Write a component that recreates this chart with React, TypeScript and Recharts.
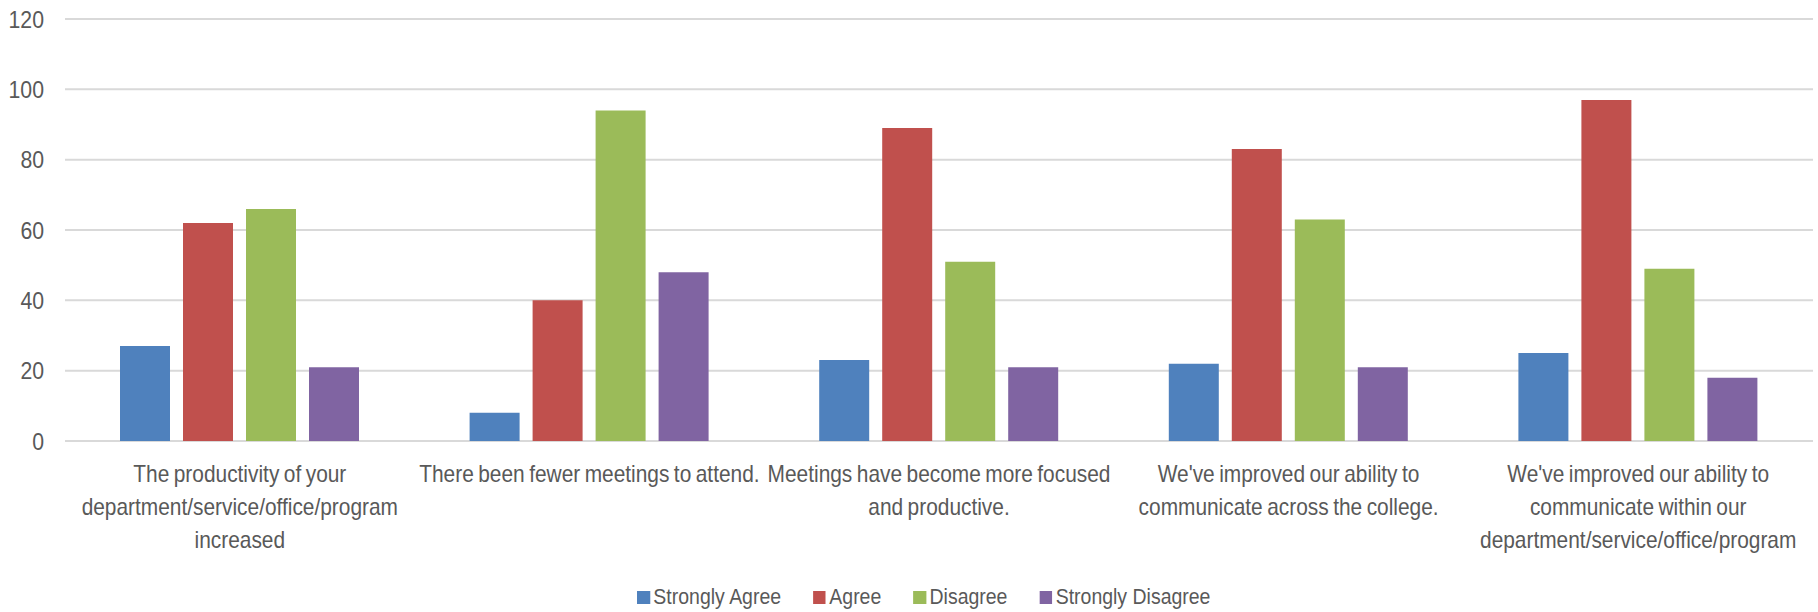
import { BarChart, Bar, XAxis, YAxis, CartesianGrid, Legend } from "recharts";

const categories = [
  "The productivity of your department/service/office/program increased",
  "There been fewer meetings to attend.",
  "Meetings have become more focused and productive.",
  "We've improved our ability to communicate across the college.",
  "We've improved our ability to communicate within our department/service/office/program",
];

// wrapped lines as they appear under each group
const categoryLines = [
  ["The productivity of your", "department/service/office/program", "increased"],
  ["There been fewer meetings to attend."],
  ["Meetings have become more focused", "and productive."],
  ["We've improved our ability to", "communicate across the college."],
  ["We've improved our ability to", "communicate within our", "department/service/office/program"],
];

const stronglyAgree = [27, 8, 23, 22, 25];
const agree = [62, 40, 89, 83, 97];
const disagree = [66, 94, 51, 63, 49];
const stronglyDisagree = [21, 48, 21, 21, 18];

const yTicks = [0, 20, 40, 60, 80, 100, 120];

const series = [
  { key: "stronglyAgree", name: "Strongly Agree", color: "#4F81BD" },
  { key: "agree", name: "Agree", color: "#C0504D" },
  { key: "disagree", name: "Disagree", color: "#9BBB59" },
  { key: "stronglyDisagree", name: "Strongly Disagree", color: "#8064A2" },
];

const data = categories.map((c, i) => ({
  category: c,
  stronglyAgree: stronglyAgree[i],
  agree: agree[i],
  disagree: disagree[i],
  stronglyDisagree: stronglyDisagree[i],
}));

const TEXT = "#595959";
const FONT = '"Liberation Sans", Arial, sans-serif';
// squeeze the text horizontally to get a Calibri-like narrow look
const NARROW = 0.885;
const LABEL_NARROW = 0.87;

function CategoryTick(props: any) {
  const { x, y, index } = props;
  const lines = categoryLines[index] ?? [];
  return (
    <g transform={`translate(${x},${y}) scale(${LABEL_NARROW},1)`}>
      <text x={0} y={0} textAnchor="middle" fill={TEXT} fontSize={24} wordSpacing={-1.5}>
        {lines.map((l: string, i: number) => (
          <tspan key={i} x={0} dy={33}>
            {l}
          </tspan>
        ))}
      </text>
    </g>
  );
}

function ValueTick(props: any) {
  const { x, y, payload } = props;
  return (
    <g transform={`translate(${x},${y}) scale(${NARROW},1)`}>
      <text x={0} y={0} dy="0.355em" textAnchor="end" fill={TEXT} fontSize={24}>
        {payload.value}
      </text>
    </g>
  );
}

function LegendRow() {
  return (
    <div
      style={{
        display: "flex",
        alignItems: "center",
        gap: 36,
        fontSize: 22,
        color: TEXT,
        whiteSpace: "nowrap",
        transform: `scaleX(${NARROW})`,
        transformOrigin: "left center",
      }}
    >
      {series.map((s) => (
        <div key={s.key} style={{ display: "flex", alignItems: "center", gap: 4 }}>
          <span style={{ width: 14.5, height: 13, background: s.color, display: "inline-block" }} />
          <span>{s.name}</span>
        </div>
      ))}
    </div>
  );
}

export default function App() {
  return (
    <div style={{ position: "absolute", left: 0, top: 0, width: 1818, height: 612, background: "#fff", fontFamily: FONT }}>
      <BarChart
        width={1818}
        height={612}
        data={data}
        margin={{ top: 19, right: 5, left: 0, bottom: 51 }}
        barSize={50}
        barGap={13}
      >
        <CartesianGrid vertical={false} stroke="#d9d9d9" strokeWidth={2} />
        <XAxis
          dataKey="category"
          axisLine={false}
          tickLine={false}
          height={120}
          interval={0}
          tick={<CategoryTick />}
        />
        <YAxis
          domain={[0, 120]}
          ticks={yTicks}
          width={65}
          axisLine={false}
          tickLine={false}
          tickMargin={15}
          tick={<ValueTick />}
        />
        <Legend
          layout="horizontal"
          verticalAlign="middle"
          align="center"
          content={<LegendRow />}
          wrapperStyle={{ top: 584, left: 637, width: "auto", height: 30 }}
        />
        {series.map((s) => (
          <Bar key={s.key} dataKey={s.key} name={s.name} fill={s.color} isAnimationActive={false} />
        ))}
      </BarChart>
    </div>
  );
}
